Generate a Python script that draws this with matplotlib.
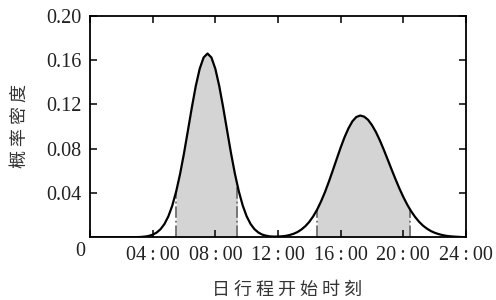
import numpy as np
import matplotlib
matplotlib.use("Agg")
import matplotlib.pyplot as plt

plt.rcParams["font.family"] = ["Liberation Serif", "Noto Sans CJK SC", "DejaVu Sans"]

# density, every 15 min from 0 to 24 h
hours = np.arange(0, 24.01, 0.25)
density = [
    0, 0, 0, 0, 0, 0, 0, 0, 0, 0, 0, 0.00005,          # 0.00 - 2.75
    0.00015, 0.00031, 0.00064, 0.00126, 0.00236, 0.00424, 0.00729, 0.0120,  # 3.00 - 4.75
    0.0189, 0.0286, 0.0414, 0.0573, 0.0760, 0.0965, 0.1173, 0.1366,         # 5.00 - 6.75
    0.1522, 0.1624, 0.1660, 0.1624, 0.1522, 0.1366, 0.1173, 0.0965,         # 7.00 - 8.75
    0.0760, 0.0573, 0.0414, 0.0286, 0.0189, 0.0120, 0.0073, 0.0043,         # 9.00 - 10.75
    0.0024, 0.0014, 0.0008, 0.0006, 0.0007, 0.0009, 0.0013, 0.0021,         # 11.00 - 12.75
    0.0032, 0.0048, 0.0071, 0.0101, 0.0140, 0.0190, 0.0251, 0.0325,         # 13.00 - 14.75
    0.0409, 0.0504, 0.0605, 0.0709, 0.0811, 0.0905, 0.0985, 0.1048,         # 15.00 - 16.75
    0.1087, 0.1100, 0.1090, 0.1061, 0.1013, 0.0951, 0.0876, 0.0792,         # 17.00 - 18.75
    0.0703, 0.0613, 0.0525, 0.0441, 0.0364, 0.0295, 0.0235, 0.0184,         # 19.00 - 20.75
    0.0141, 0.0106, 0.0079, 0.0057, 0.0041, 0.0029, 0.0020, 0.0013,         # 21.00 - 22.75
    0.0009, 0.0006, 0.0004, 0.0002, 0.0001,                                 # 23.00 - 24.00
]
density = np.array(density)

# shaded peak intervals (hours)
peak_intervals = [(5.5, 9.4), (14.5, 20.4)]

xtick_pos = [0, 4, 8, 12, 16, 20, 24]
xtick_labels = ["", "04\u2009:\u200900", "08\u2009:\u200900", "12\u2009:\u200900",
                "16\u2009:\u200900", "20\u2009:\u200900", "24\u2009:\u200900"]
ytick_pos = [0.04, 0.08, 0.12, 0.16, 0.20]
ytick_labels = ["0.04", "0.08", "0.12", "0.16", "0.20"]

fig = plt.figure(figsize=(4.96, 3.0), dpi=100)
ax = fig.add_axes([0.1815, 0.209, 0.758, 0.738])

for lo, hi in peak_intervals:
    inside = hours[(hours > lo) & (hours < hi)]
    xs = np.concatenate([[lo], inside, [hi]])
    ys = np.interp(xs, hours, density)
    ax.fill_between(xs, 0, ys, color="#d4d4d4", linewidth=0, zorder=1)
    for b in (lo, hi):
        ax.plot([b, b], [0, np.interp(b, hours, density)], color="#6e6e6e",
                linestyle="-.", linewidth=1.3, zorder=2)

ax.plot(hours, density, color="black", linewidth=1.6, zorder=3)

ax.set_xlim(0, 24)
ax.set_ylim(0, 0.20)
ax.set_xticks(xtick_pos)
ax.set_xticklabels(xtick_labels, fontsize=14.5, color="#222222")
ax.set_yticks(ytick_pos)
ax.set_yticklabels(ytick_labels, fontsize=14.5, color="#222222")
ax.tick_params(direction="in", top=True, right=True, length=5, width=1.1, pad=6)
for sp in ax.spines.values():
    sp.set_linewidth(1.3)

fig.text(80 / 496, 1 - 251 / 300, "0", fontsize=14.5, color="#222222",
         ha="center", va="center")

fig.text(20 / 496, 1 - 126 / 300, "概 率 密 度", fontsize=13, color="#333333",
         family=["Noto Sans CJK SC", "DejaVu Sans"], rotation=90,
         ha="center", va="center")
fig.text(287 / 496, 1 - 290 / 300, "日 行 程 开 始 时 刻", fontsize=13, color="#333333",
         family=["Noto Sans CJK SC", "DejaVu Sans"], ha="center", va="center")

fig.savefig("out.png", dpi=100)
